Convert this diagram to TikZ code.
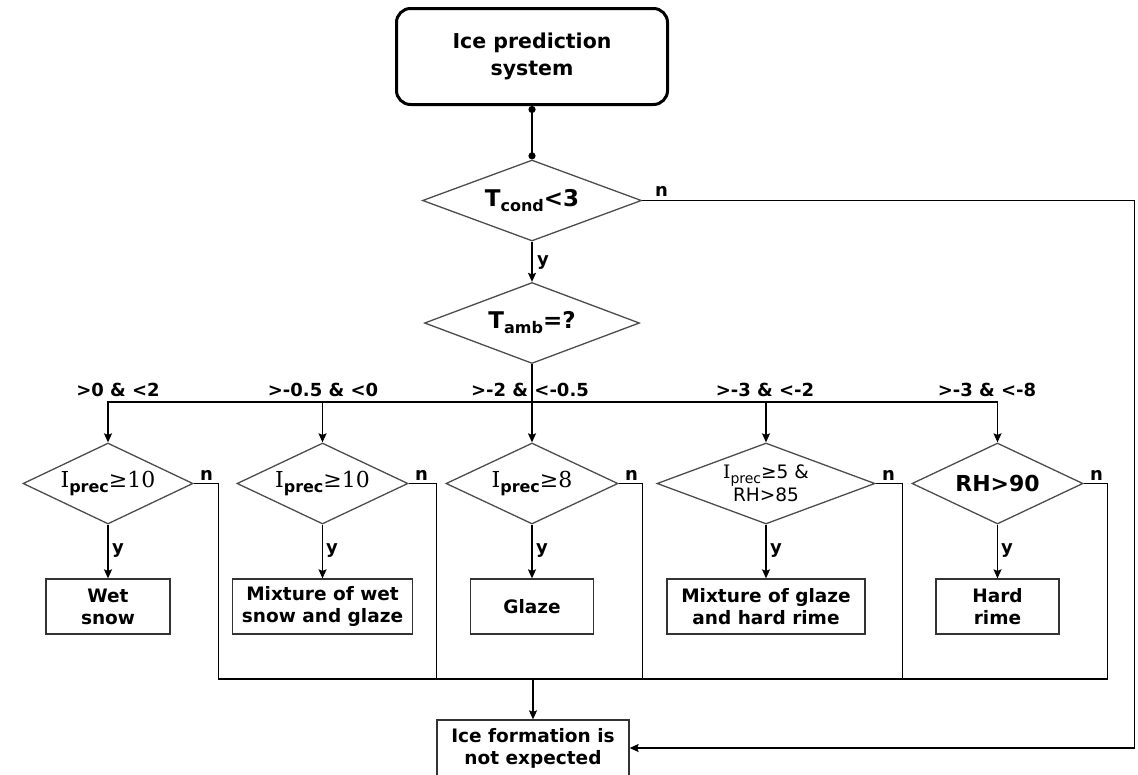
\documentclass[tikz,border=0pt]{standalone}
\usepackage{fontspec}
\setmainfont{DejaVu Sans}
\newfontfamily\serfam{DejaVu Serif}
\usetikzlibrary{shapes.geometric,arrows.meta}
\newcommand{\lowtext}[2][16]{\raisebox{-5pt}{\fontsize{#1}{#1}\selectfont #2}}
\begin{document}
\begin{tikzpicture}
        [
            x=1pt, y=-1pt,
            start/.style = {draw, line width=3pt, rounded corners=14pt, minimum width=271pt, minimum height=96pt, align=center, font=\bfseries\fontsize{20.5}{27}\selectfont},
            decision/.style = {draw=black!70, line width=1.3pt, diamond, shape aspect=2.1, inner sep=0pt, minimum height=81pt, align=center, font=\bfseries\fontsize{22}{26}\selectfont},
            outcome/.style = {draw=black!80, line width=1.3pt, minimum height=55pt, inner sep=0pt, align=center, font=\bfseries\fontsize{18.5}{22}\selectfont},
            lbl/.style = {inner sep=0pt, anchor=base, font=\bfseries\fontsize{18}{18}\selectfont},
            yn/.style = {inner sep=0pt, anchor=base west, font=\bfseries\fontsize{18}{18}\selectfont},
            flow/.style = {line width=1.3pt, -{Stealth[length=9pt,width=8pt,inset=1.5pt]}},
            link/.style = {line width=1.3pt},
        ]
        \useasboundingbox (0,0) rectangle (1138,774);
        \node [start] (sys) at (532,56.5) {Ice prediction\\system};
        \node [decision, minimum width=219pt, font=\bfseries\fontsize{23}{26}\selectfont] (dcond) at (532,200.5) {T\lowtext{cond}<3};
        \node [decision, minimum width=215pt, font=\bfseries\fontsize{23}{26}\selectfont] (damb) at (532,323) {T\lowtext{amb}=?};
        \node [decision, minimum width=170pt] (c1) at (108,483.5) {{\serfam\mdseries I}\lowtext{prec}{\serfam\mdseries ≥10}};
        \node [decision, minimum width=171pt] (c2) at (322.5,483.5) {{\serfam\mdseries I}\lowtext{prec}{\serfam\mdseries ≥10}};
        \node [decision, minimum width=172pt] (c3) at (532,483.5) {{\serfam\mdseries I}\lowtext{prec}{\serfam\mdseries ≥8}};
        \node [decision, minimum width=218pt, shape aspect=2.7, font=\fontsize{18.5}{19}\selectfont] (c4) at (766,483.5) {{\serfam I}\lowtext[14]{prec}≥5 \&\\RH>85};
        \node [decision, minimum width=171pt] (c5) at (997.5,483.5) {RH>90};
        \node [outcome, minimum width=124pt] (b1) at (108,606.5) {Wet\\snow};
        \node [outcome, minimum width=180pt] (b2) at (322.5,606.5) {Mixture of wet\\snow and glaze};
        \node [outcome, minimum width=123pt] (b3) at (532,606.5) {Glaze};
        \node [outcome, minimum width=198pt] (b4) at (766,606.5) {Mixture of glaze\\and hard rime};
        \node [outcome, minimum width=123pt] (b5) at (997.5,606.5) {Hard\\rime};
        \node [outcome, minimum width=192pt, minimum height=56pt] (none) at (533,748) {Ice formation is\\not expected};
        \node [lbl] (l1) at (118,396) {>0 \& <2};
        \node [lbl] (l2) at (323,396) {>-0.5 \& <0};
        \node [lbl] (l3) at (530,396) {>-2 \& <-0.5};
        \node [lbl] (l4) at (765,396) {>-3 \& <-2};
        \node [lbl] (l5) at (987,396) {>-3 \& <-8};
        \node [yn] (y0) at (537,265) {y};
        \node [yn] (y1) at (112,553) {y};
        \node [yn] (y2) at (326,553) {y};
        \node [yn] (y3) at (536,553) {y};
        \node [yn] (y4) at (770,553) {y};
        \node [yn] (y5) at (1001,553) {y};
        \node [yn] (n0) at (655,196) {n};
        \node [yn] (n1) at (200,480) {n};
        \node [yn] (n2) at (415,480) {n};
        \node [yn] (n3) at (625,480) {n};
        \node [yn] (n4) at (882,480) {n};
        \node [yn] (n5) at (1090,480) {n};
        \coordinate (bus) at (532,402);
        \coordinate (nbus) at (533,679);
        \draw[line width=2.5pt, {Circle[length=7pt,width=7pt]}-{Circle[length=7pt,width=7pt]}] (sys.south) -- (dcond.north);
        \draw[flow] (dcond.south) -- (damb.north);
        \draw[flow] (dcond.east) -- ++(492,0) |- (none.east);
        \draw[flow] (damb.south) -- (c3.north);
        \draw[flow] (damb.south) -- (bus) -| (c1.north);
        \draw[flow] (damb.south) -- (bus) -| (c2.north);
        \draw[flow] (damb.south) -- (bus) -| (c4.north);
        \draw[flow] (damb.south) -- (bus) -| (c5.north);
        \draw[flow] (c1.south) -- (b1.north);
        \draw[flow] (c2.south) -- (b2.north);
        \draw[flow] (c3.south) -- (b3.north);
        \draw[flow] (c4.south) -- (b4.north);
        \draw[flow] (c5.south) -- (b5.north);
        \draw[link] (c1.east) -- ++(25,0) |- (nbus);
        \draw[link] (c2.east) -- ++(28,0) |- (nbus);
        \draw[link] (c3.east) -- ++(24,0) |- (nbus);
        \draw[link] (c4.east) -- ++(27,0) |- (nbus);
        \draw[link] (c5.east) -- ++(24,0) |- (nbus);
        \draw[flow] (nbus) -- (none.north);
    \end{tikzpicture}
\end{document}
